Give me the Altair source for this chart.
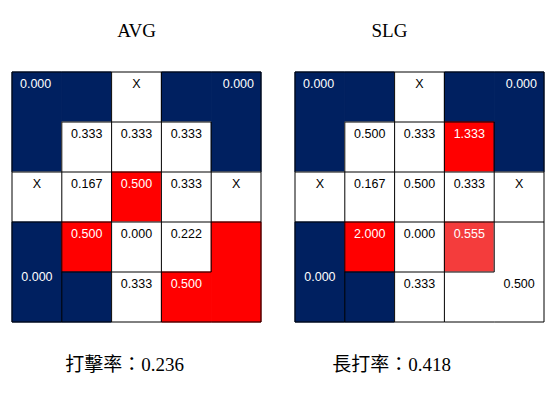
import altair as alt
import pandas as pd

# ---- data ----
REGIONS = [
    ["TL", "TL", "TM", "TR", "TR"],
    ["TL", "Z1", "Z2", "Z3", "TR"],
    ["ML", "Z4", "Z5", "Z6", "MR"],
    ["BL", "Z7", "Z8", "Z9", "BR"],
    ["BL", "BLc", "BM", "BR", "BR"],
]
ZONES = ["TL", "TM", "TR", "Z1", "Z2", "Z3", "ML", "Z4", "Z5", "Z6", "MR",
         "BL", "BLc", "Z7", "Z8", "Z9", "BM", "BR"]

AVG_TEXT = ["0.000", "X", "0.000", "0.333", "0.333", "0.333", "X", "0.167", "0.500", "0.333", "X",
            "0.000", "", "0.500", "0.000", "0.222", "0.333", "0.500"]
AVG_HEAT = ["cold", "none", "cold", "none", "none", "none", "none", "none", "hot", "none", "none",
            "cold", "cold", "hot", "none", "none", "none", "hot"]
SLG_TEXT = ["0.000", "X", "0.000", "0.500", "0.333", "1.333", "X", "0.167", "0.500", "0.333", "X",
            "0.000", "", "2.000", "0.000", "0.555", "0.333", "0.500"]
SLG_HEAT = ["cold", "none", "cold", "none", "none", "hot", "none", "none", "none", "none", "none",
            "cold", "cold", "hot", "none", "warm", "none", "none"]

TITLES = ["AVG", "SLG"]
SUMMARY = ["打擊率：0.236", "長打率：0.418"]

HEAT_DOMAIN = ["cold", "none", "hot", "warm"]
HEAT_RANGE = ["#002060", "#ffffff", "#ff0000", "#f43c3c"]

# label anchors (row, col, align) - layout
BASE_ANCHORS = {"TL": (0, 0, "left"), "TR": (0, 4, "right"), "BL": (3.85, 0, "center")}
BR_COL = [3, 4]


def panel(texts, heats, title, summary, br_col, title_dx, sum_x):
    zone_text = dict(zip(ZONES, texts))
    zone_heat = dict(zip(ZONES, heats))
    cells = []
    for r in range(5):
        for c in range(5):
            z = REGIONS[r][c]
            cells.append({"x": c, "x2": c + 1, "y": r, "y2": r + 1, "heat": zone_heat[z]})
    cells = pd.DataFrame(cells)

    segs = []
    for r in range(5):
        for c in range(5):
            z = REGIONS[r][c]
            if c == 0:
                segs.append({"x": 0, "x2": 0, "y": r, "y2": r + 1})
            if r == 0:
                segs.append({"x": c, "x2": c + 1, "y": 0, "y2": 0})
            if c == 4 or REGIONS[r][c + 1] != z:
                segs.append({"x": c + 1, "x2": c + 1, "y": r, "y2": r + 1})
            if r == 4 or REGIONS[r + 1][c] != z:
                segs.append({"x": c, "x2": c + 1, "y": r + 1, "y2": r + 1})
    segs = pd.DataFrame(segs)

    labels = []
    seen = set()
    for r in range(5):
        for c in range(5):
            z = REGIONS[r][c]
            if z in seen:
                continue
            seen.add(z)
            if not zone_text[z]:
                continue
            if z in BASE_ANCHORS:
                ar, ac, al = BASE_ANCHORS[z]
            elif z == "BR":
                ar, ac, al = 4, br_col, "center"
            else:
                ar, ac, al = r, c, "center"
            xoff = {"left": 0.16, "center": 0.5, "right": 0.86}[al]
            labels.append({"lx": ac + xoff, "ly": ar + 0.24, "label": zone_text[z],
                           "align": al, "heat": zone_heat[z]})
    labels = pd.DataFrame(labels)

    xs = alt.Scale(domain=[0, 5], nice=False, zero=False)
    ys = alt.Scale(domain=[0, 5], nice=False, zero=False, reverse=True)
    heat_scale = alt.Scale(domain=HEAT_DOMAIN, range=HEAT_RANGE)

    rects = alt.Chart(cells).mark_rect(strokeWidth=1).encode(
        x=alt.X("x:Q", scale=xs,
                axis=alt.Axis(labels=False, ticks=False, domain=False, grid=False,
                              title=summary, titleFont="Liberation Serif, Noto Sans CJK TC",
                              titleFontSize=19, titleFontWeight="normal", titleColor="#000000",
                              titlePadding=33, titleX=sum_x, titleAlign="center")),
        x2="x2:Q",
        y=alt.Y("y:Q", scale=ys, axis=None),
        y2="y2:Q",
        color=alt.Color("heat:N", scale=heat_scale, legend=None),
        stroke=alt.Stroke("heat:N", scale=heat_scale, legend=None),
    )
    rules = alt.Chart(segs).mark_rule(color="#000000", strokeWidth=1).encode(
        x="x:Q", x2="x2:Q", y="y:Q", y2="y2:Q"
    )
    layers = [rects, rules]
    for al in ["left", "center", "right"]:
        sub = labels[labels["align"] == al]
        if len(sub) == 0:
            continue
        layers.append(
            alt.Chart(sub).mark_text(align=al, baseline="middle", font="Liberation Sans",
                                     fontSize=12.5).encode(
                x="lx:Q", y="ly:Q", text="label:N",
                color=alt.condition("datum.heat == 'none'", alt.value("#000000"), alt.value("#ffffff")),
            )
        )
    return alt.layer(*layers).properties(
        width=249, height=250,
        title=alt.TitleParams(text=title, font="Liberation Serif", fontSize=19,
                              fontWeight="normal", color="#000000", offset=31, dx=title_dx),
    )


left = panel(AVG_TEXT, AVG_HEAT, TITLES[0], SUMMARY[0], BR_COL[0], 0, 112)
right = panel(SLG_TEXT, SLG_HEAT, TITLES[1], SUMMARY[1], BR_COL[1], -30, 96)

chart = alt.hconcat(left, right, spacing=34, bounds="flush").properties(
    padding={"left": 11, "top": 21, "right": 12, "bottom": 20},
    background="#ffffff",
).configure_view(stroke=None).resolve_scale(color="independent", stroke="independent")

chart.save("out.html", embed_options={"renderer": "svg", "actions": False})
